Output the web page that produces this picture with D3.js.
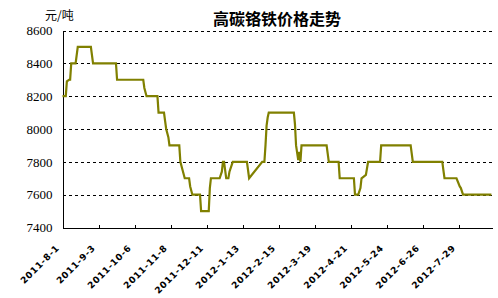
<!DOCTYPE html>
<html>
<head>
<meta charset="utf-8">
<script src="https://cdn.jsdelivr.net/npm/d3@7"></script>
<style>
  html, body { margin: 0; padding: 0; background: #fff; }
  svg { display: block; }
</style>
</head>
<body>
<svg id="chart" width="498" height="298"></svg>
<script>
// ---- data ----
const chartTitle = "高碳铬铁价格走势";
const unitLabel = "元/吨";
const startDate = "2011-8-1";
const tickLabels = ["2011-8-1","2011-9-3","2011-10-6","2011-11-8","2011-12-11","2012-1-13",
                    "2012-2-15","2012-3-19","2012-4-21","2012-5-24","2012-6-26","2012-7-29"];
const yTicks = [7400, 7600, 7800, 8000, 8200, 8400, 8600];
const totalDays = 394;
// day offsets (from startDate) at which the price line changes, and the prices there
const dayOffsets = [0,3,4,6,7,8,12,13,14,26,27,28,49,50,74,75,77,87,88,93,94,95,97,98,107,108,110,112,116,117,119,126,127,134,135,136,144,146,147,148,150,152,153,156,169,171,183,185,186,187,188,189,212,213,214,216,217,218,219,242,243,244,253,254,267,268,271,273,274,278,280,291,292,319,320,321,348,349,350,361,364,365,367,393];
const prices     = [8200,8200,8290,8300,8300,8400,8400,8450,8500,8500,8450,8400,8400,8300,8300,8250,8200,8200,8100,8100,8050,8000,7950,7900,7900,7800,7750,7700,7700,7650,7600,7600,7500,7500,7640,7700,7700,7740,7800,7800,7700,7700,7740,7800,7800,7700,7800,7800,7900,8020,8070,8100,8100,8030,7900,7810,7860,7800,7900,7900,7850,7800,7800,7700,7700,7600,7600,7640,7700,7720,7800,7800,7900,7900,7850,7800,7800,7750,7700,7700,7650,7640,7600,7600];

// ---- drawing ----
const svg = d3.select("#chart");
const parse = d3.timeParse("%Y-%m-%d");
const norm = s => s.split("-").map((p,i)=> i ? p.padStart(2,"0") : p).join("-");
const t0 = parse(norm(startDate));
const tickDays = tickLabels.map(l => d3.timeDay.count(t0, parse(norm(l))));

const x = d3.scaleLinear().domain([0, totalDays]).range([62.5, 492.5]);
const y = d3.scaleLinear().domain([7400, 8600]).range([227.5, 30.5]);

svg.append("rect").attr("width", 498).attr("height", 298).attr("fill", "#fff");

// grid
svg.append("g").selectAll("line").data(yTicks.filter(v => v > 7400)).join("line")
  .attr("x1", x(0)).attr("x2", x(totalDays))
  .attr("y1", d => Math.round(y(d)) + 0.5).attr("y2", d => Math.round(y(d)) + 0.5)
  .attr("stroke", "#000").attr("stroke-width", 1).attr("stroke-dasharray", "3,3")
  .attr("shape-rendering", "crispEdges");

// y axis
const yAxis = d3.axisLeft(y).tickValues(yTicks).tickSize(0).tickPadding(10).tickFormat(d3.format("d"));
const gy = svg.append("g").attr("transform", "translate(62.5,0)").call(yAxis);
gy.select(".domain").attr("stroke", "#000").attr("shape-rendering", "crispEdges");
gy.selectAll("text").attr("font-family", "'Liberation Serif', 'DejaVu Serif', serif")
  .attr("font-size", 13).attr("fill", "#000");

// x axis
const xAxis = d3.axisBottom(x).tickValues(tickDays).tickSizeInner(-3).tickSizeOuter(0).tickFormat((d,i) => tickLabels[i]);
const gx = svg.append("g").attr("transform", "translate(0,227.5)").call(xAxis);
gx.select(".domain").attr("stroke", "#000").attr("shape-rendering", "crispEdges");
gx.selectAll(".tick line").attr("stroke", "#000").attr("shape-rendering", "crispEdges");
gx.selectAll("text")
  .attr("font-family", "'DejaVu Sans', sans-serif").attr("font-weight", "bold")
  .attr("font-size", 9).attr("letter-spacing", 0.7).attr("fill", "#000")
  .attr("text-anchor", "end").attr("dy", null).attr("y", 0)
  .attr("transform", "translate(-3,21) rotate(-45)");

// line
const pts = dayOffsets.map((d, i) => [d, prices[i]]);
svg.append("path").datum(pts)
  .attr("fill", "none").attr("stroke", "#808000").attr("stroke-width", 2.2)
  .attr("stroke-linejoin", "miter")
  .attr("d", d3.line().x(d => x(d[0])).y(d => y(d[1])));

// title & unit
svg.append("text").attr("x", 277).attr("y", 25).attr("text-anchor", "middle")
  .attr("font-family", "'Noto Sans CJK SC', sans-serif").attr("font-weight", "bold")
  .attr("font-size", 16).attr("fill", "#000").text(chartTitle);
svg.append("text").attr("x", 45).attr("y", 20)
  .attr("font-family", "'Noto Sans CJK SC', sans-serif")
  .attr("font-size", 12).attr("fill", "#000").text(unitLabel);
</script>
</body>
</html>
